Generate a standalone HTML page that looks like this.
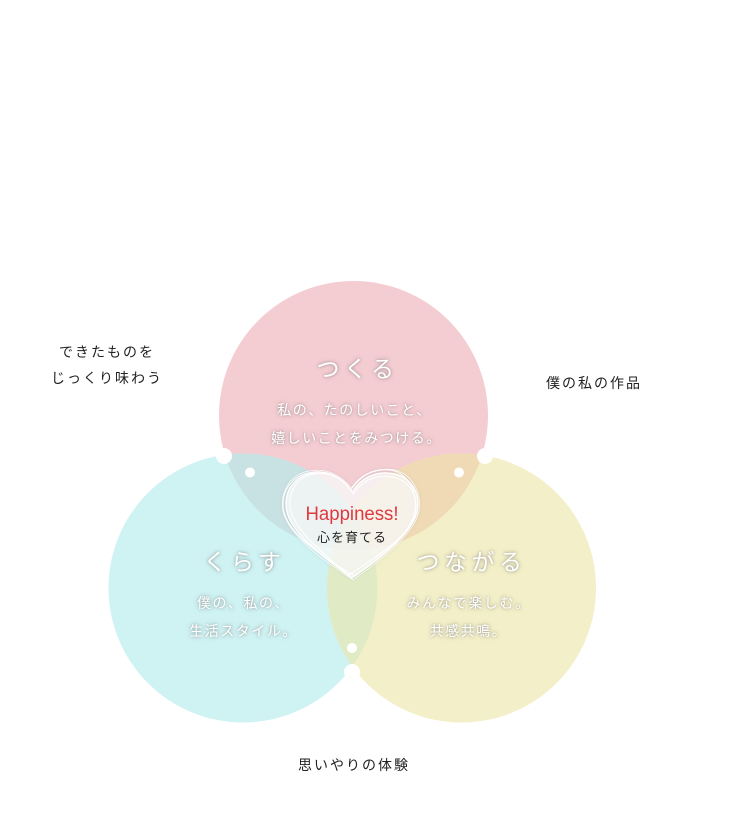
<!DOCTYPE html>
<html><head><meta charset="utf-8">
<style>
html,body{margin:0;padding:0;background:#fff;}
body{width:735px;height:816px;position:relative;overflow:hidden;font-family:"Liberation Sans","Noto Sans CJK JP",sans-serif;}
svg{position:absolute;left:0;top:0;}
.t{position:absolute;width:300px;text-align:center;color:#fff;font-family:"Liberation Sans","Noto Sans CJK JP",sans-serif;text-shadow:0 0 4px rgba(110,110,110,0.55),0 0 2px rgba(110,110,110,0.35);white-space:nowrap;}
.ti{font-size:23px;letter-spacing:4.5px;padding-left:4.5px;line-height:30px;}
.bd{font-size:14px;letter-spacing:1.5px;padding-left:1.5px;line-height:28px;}
.o{position:absolute;width:200px;text-align:center;color:#222;font-size:14px;letter-spacing:2px;padding-left:2px;line-height:26px;font-family:"Liberation Sans","Noto Sans CJK JP",sans-serif;white-space:nowrap;}
</style></head><body>
<svg width="735" height="816" viewBox="0 0 735 816" xmlns="http://www.w3.org/2000/svg">
<defs>
<clipPath id="cp"><circle cx="353.5" cy="415.5" r="134.5"/></clipPath>
<clipPath id="cc"><circle cx="243" cy="588" r="134.5"/></clipPath>
<clipPath id="cy"><circle cx="461.5" cy="588" r="134.5"/></clipPath>
<filter id="hs" x="-20%" y="-20%" width="140%" height="140%"><feDropShadow dx="0" dy="0" stdDeviation="1.5" flood-color="#999" flood-opacity="0.35"/></filter>
</defs>
<circle cx="353.5" cy="415.5" r="134.5" fill="#f4cdd2"/>
<circle cx="243" cy="588" r="134.5" fill="#cff2f3"/>
<circle cx="461.5" cy="588" r="134.5" fill="#f3efc8"/>
<g clip-path="url(#cp)"><circle cx="243" cy="588" r="134.5" fill="#c8e2e4"/><circle cx="461.5" cy="588" r="134.5" fill="#f0dab5"/></g>
<g clip-path="url(#cc)"><circle cx="461.5" cy="588" r="134.5" fill="#e0ebc6"/></g>
<g clip-path="url(#cp)"><g clip-path="url(#cc)"><circle cx="461.5" cy="588" r="134.5" fill="#d8dfc0"/></g></g>
<!-- dots -->
<circle cx="224" cy="456" r="8" fill="#fff"/>
<circle cx="485" cy="456" r="8" fill="#fff"/>
<circle cx="352" cy="672" r="8" fill="#fff"/>
<circle cx="250" cy="472.5" r="5" fill="#fff"/>
<circle cx="459" cy="472.5" r="5" fill="#fff"/>
<circle cx="352" cy="648" r="5" fill="#fff"/>
<!-- heart -->
<g filter="url(#hs)">
<path d="M352,492 C343,478 330,472 316,473 C297,474 285,488 286,506 C287,530 320,555 352,578 C384,555 417,530 418,506 C419,488 407,474 388,473 C374,472 361,478 352,492 Z" fill="#fff" fill-opacity="0.7" stroke="#fff" stroke-width="1.3"/>
<path d="M352,490 C342,475 328,469 313,471 C294,473 282,489 284,507 C287,531 321,556 353,576 C385,556 416,531 416,507 C417,489 406,472 389,471 C374,470 362,476 352,490 Z" fill="none" stroke="#fff" stroke-width="1" transform="rotate(-2 352 525)"/>
<path d="M352,494 C344,480 331,474 317,475 C299,476 288,490 289,507 C291,530 322,553 351,575 C382,553 414,530 415,507 C416,490 405,476 387,475 C373,474 360,480 352,494 Z" fill="none" stroke="#fff" stroke-width="1" transform="rotate(2.5 352 525)"/>
<path d="M352,488 C341,474 327,468 312,470 C292,472 281,489 283,508 C286,532 320,558 352,580 C384,558 418,532 420,508 C421,489 409,471 390,470 C375,469 362,474 352,488 Z" fill="none" stroke="#fff" stroke-opacity="0.8" stroke-width="0.9" transform="rotate(-1 352 525)"/>
</g>
<text x="352" y="520" text-anchor="middle" font-family="Liberation Sans, sans-serif" font-size="19" fill="#e0393e" textLength="93" lengthAdjust="spacingAndGlyphs">Happiness!</text>
<text x="352" y="542" text-anchor="middle" font-family="Liberation Sans, Noto Sans CJK JP, sans-serif" font-size="13" fill="#222" letter-spacing="1">心を育てる</text>
</svg>

<div class="t ti" style="left:203px;top:354px;">つくる</div>
<div class="t bd" style="left:203px;top:396px;">私の、たのしいこと、</div>
<div class="t bd" style="left:205px;top:424px;">嬉しいことをみつける。</div>

<div class="t ti" style="left:90px;top:547px;">くらす</div>
<div class="t bd" style="left:92px;top:589px;">僕の、私の、</div>
<div class="t bd" style="left:92px;top:617px;">生活スタイル。</div>

<div class="t ti" style="left:317px;top:547px;">つながる</div>
<div class="t bd" style="left:317px;top:589px;">みんなで楽しむ。</div>
<div class="t bd" style="left:317px;top:617px;">共感共鳴。</div>

<div class="o" style="left:5px;top:339px;">できたものを</div>
<div class="o" style="left:5px;top:365px;">じっくり味わう</div>
<div class="o" style="left:492px;top:370px;">僕の私の作品</div>
<div class="o" style="left:252px;top:752px;">思いやりの体験</div>
</body></html>
